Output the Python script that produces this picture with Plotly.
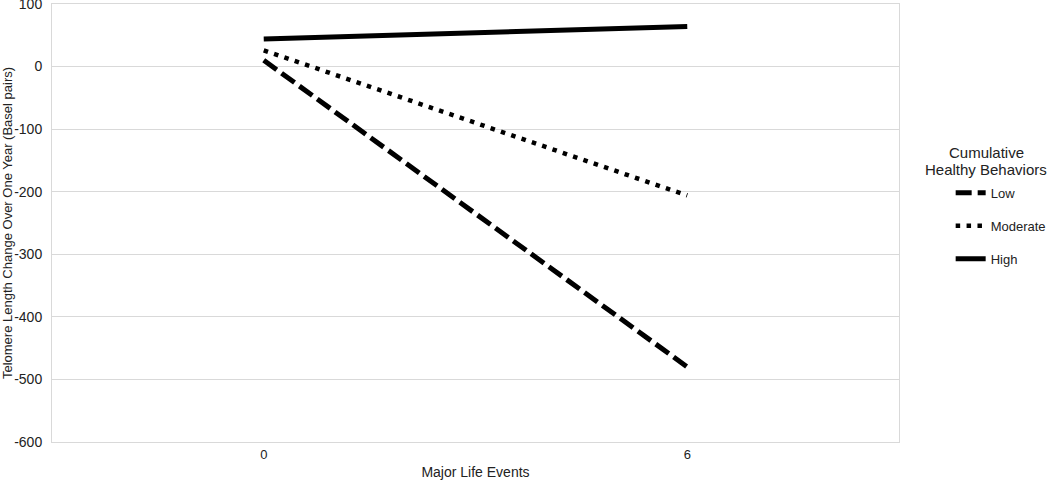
import plotly.graph_objects as go

# Major life events (category axis)
events = ["0", "6"]

# Telomere length change (base pairs) by cumulative healthy behaviors
low = [10, -480]
moderate = [26, -206]
high = [44, 64]

series_names = ["Low", "Moderate", "High"]
series_values = [low, moderate, high]
dash_styles = ["16px,6px", "4.5px,6.4px", "solid"]
line_widths = [5, 4.5, 5]

y_ticks = [100, 0, -100, -200, -300, -400, -500, -600]
y_tick_text = ["100", "0", "-100", "-200", "-300", "-400", "-500", "-600"]

GRID = "#d9d9d9"
FONT = "Liberation Sans, Arial, sans-serif"
TEXT = "#222222"

fig = go.Figure()
for i, (name, vals) in enumerate(zip(series_names, series_values)):
    fig.add_trace(go.Scatter(
        x=events, y=vals, mode="lines", name=name, legendgroup=name,
        line=dict(color="black", width=line_widths[i], dash=dash_styles[i]),
    ))

# legend title sits left of the legend items and uses tight line spacing,
# so it is drawn as two lines of annotation text
for txt, ypos in [("Cumulative", 0.662), ("Healthy Behaviors", 0.623)]:
    fig.add_annotation(
        text=txt, xref="paper", yref="paper", x=1.103, y=ypos,
        xanchor="center", yanchor="middle", showarrow=False,
        font=dict(size=15, color=TEXT),
    )

fig.update_layout(
    width=1050, height=484,
    margin=dict(l=52, r=151, t=4, b=42, autoexpand=False),
    plot_bgcolor="white", paper_bgcolor="white",
    font=dict(family=FONT, size=12, color=TEXT),
    legend=dict(
        x=1.061, xanchor="left", xref="paper", y=0.603, yanchor="top",
        tracegroupgap=13, itemwidth=30,
        font=dict(size=13),
    ),
    xaxis=dict(
        type="category", range=[-0.5, 1.5], automargin=False,
        showgrid=False, showline=True, linecolor=GRID, mirror=True,
        ticks="", tickfont=dict(size=13),
        title=dict(text="Major Life Events", standoff=6),
    ),
    yaxis=dict(
        range=[-600, 100], tickvals=y_ticks, ticktext=y_tick_text, automargin=False,
        showgrid=True, gridcolor=GRID, zeroline=False,
        showline=True, linecolor=GRID, mirror=True,
        ticks="", ticklabelstandoff=6, tickfont=dict(size=14),
        ticklabeloverflow="allow",
        title=dict(text="Telomere Length Change Over One Year (Basel pairs)",
                   standoff=6, font=dict(size=13)),
    ),
)

# the page body has a default 8px margin; drop it so the chart sits at the corner
fig.write_html("out.html", config={"displayModeBar": False},
               post_script="document.body.style.margin='0';")
